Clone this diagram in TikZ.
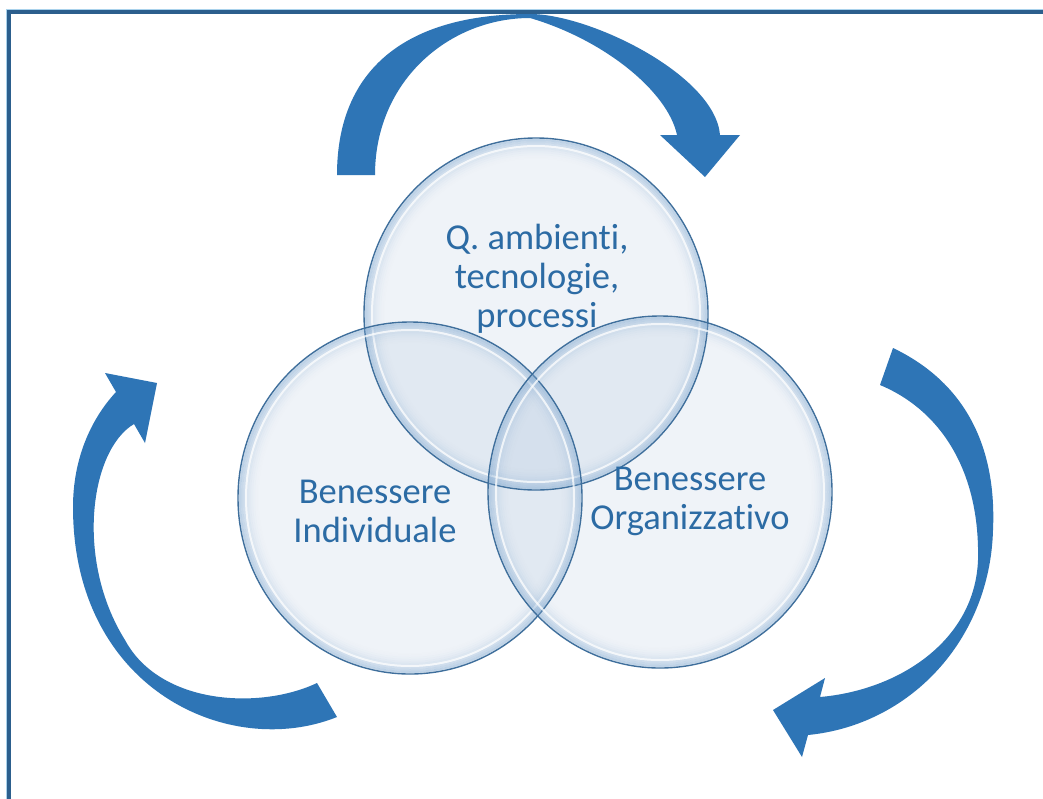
\documentclass[tikz,border=0pt]{standalone}
\usepackage{fontspec}
\setmainfont{Carlito}[Ligatures={NoCommon}]
\definecolor{arrowblue}{HTML}{2E75B6}
\definecolor{framecol}{HTML}{2C5F8D}
\definecolor{frameglow}{HTML}{A9D2EC}
\definecolor{labelblue}{HTML}{2C6BA4}
\definecolor{rimblue}{HTML}{7EA7D0}
\definecolor{bubbletint}{HTML}{8EAFD0}
\definecolor{edgeblue}{HTML}{3F6F9C}
\begin{document}
\begin{tikzpicture}[x=1pt,y=-1pt,
  labeltext/.style={text=labelblue, align=center, inner sep=0pt,
    font=\fontsize{36.5}{39}\selectfont},
  cyclearrow/.style={fill=arrowblue},
  bubblebody/.style={fill=bubbletint, fill opacity=0.14},
  bubbleedge/.style={draw=edgeblue, line width=1.4pt},
]
\useasboundingbox (0,0) rectangle (1043,798);
\clip (0,0) rectangle (1043,798);
\fill[white] (0,0) rectangle (1043,798);

% outer frame (only its top and left sides fall inside the page)
\draw[frameglow, line width=1.5pt] (7,9.5) rectangle (1100,860);
\draw[framecol, line width=4pt] (9,12) rectangle (1100,860);

% the three cycle arrows
\fill[cyclearrow] (337,175) .. controls (337,70) and (405,14) .. (530,14)
  .. controls (590,14) and (715,75) .. (720,135)
  -- (740,135) -- (705,177) -- (660,135) -- (677,135)
  .. controls (668,92) and (605,40) .. (530,18)
  .. controls (450,18) and (375,80) .. (375,175) -- cycle;
\fill[cyclearrow] (893,348) .. controls (960,380) and (997,440) .. (993,530)
  .. controls (990,640) and (910,725) .. (808,735)
  -- (802,757) -- (773,710) -- (825,678) -- (820,697)
  .. controls (900,690) and (975,640) .. (978,560)
  .. controls (980,470) and (940,410) .. (880,385) -- cycle;
\fill[cyclearrow] (337,717) .. controls (230,760) and (73,690) .. (73,507)
  .. controls (73,460) and (90,420) .. (116,392)
  -- (105,373) -- (157,383) -- (145,443) -- (134,424)
  .. controls (90,450) and (75,560) .. (125,640)
  .. controls (160,705) and (260,710) .. (317,683) -- cycle;

% the three overlapping bubbles
\coordinate (ambito) at (536,314);
\coordinate (indiv) at (410,498);
\coordinate (organ) at (660,492);
\foreach \c in {ambito,indiv,organ}{
  \fill[bubblebody] (\c) ellipse [x radius=172, y radius=176];
}
\foreach \c in {ambito,indiv,organ}{
  \foreach \k in {0,...,9}{
    \pgfmathsetmacro\op{0.42*(1-\k/10)*(1-\k/10)}
    \draw[rimblue, line width=2pt, draw opacity=\op]
      (\c) ellipse [x radius={170-2*\k}, y radius={174-2*\k}];
  }
  \draw[white, line width=2pt, draw opacity=0.75]
    (\c) ellipse [x radius=164, y radius=168];
  \draw[bubbleedge] (\c) ellipse [x radius=172, y radius=176];
}

% labels
\node[labeltext] (qtxt) at (537,279) {Q. ambienti,\\tecnologie,\\processi};
\node[labeltext] (bitxt) at (375,511) {Benessere\\Individuale};
\node[labeltext] (botxt) at (690,501) {Benessere\\Organizzativo};
\end{tikzpicture}
\end{document}
